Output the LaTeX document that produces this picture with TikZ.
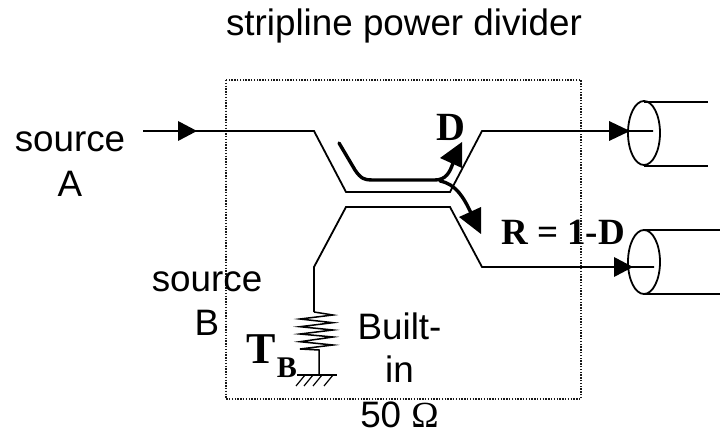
\documentclass[tikz,border=0pt]{standalone}
\usepackage{fontspec}
\setmainfont{Liberation Sans}
\newfontfamily\timesbold[BoldFont={Liberation Serif Bold}]{Liberation Serif}
\tikzset{
  lbl/.style={inner sep=0pt,anchor=base,font=\fontsize{36.8}{40}\selectfont},
  blbl/.style={inner sep=0pt,font=\fontsize{37}{40}\timesbold\bfseries},
  wire/.style={line width=1.8pt,line join=miter},
  thick arrow/.style={line width=3.4pt,line cap=round},
  head/.style={fill=black,draw=none}
}
\begin{document}
\begin{tikzpicture}[x=1pt,y=-1pt]
\useasboundingbox (0,0) rectangle (720,435);
\draw[line width=1.4pt,dash pattern=on 1.4pt off 1.4pt,black!90] (226,80) rectangle (581,399);
% text
\node[lbl] (title) at (404,36) {stripline power divider};
\node[lbl] (srcA) at (70,152) {source};
\node[lbl] (a) at (70,197) {A};
\node[lbl] (srcB) at (207,292) {source};
\node[lbl] (b) at (207,336) {B};
\node[lbl] (built) at (399.5,340) {Built-};
\node[lbl] (in) at (399.5,383) {in};
\node[lbl] (ohm) at (399.5,427) {50 {\timesbold Ω}};
\node[inner sep=0pt,font=\fontsize{40}{40}\timesbold\bfseries] (d) at (451,127) {D};
\node[blbl] (r) at (563,232) {R = 1-D};
\node[inner sep=0pt,font=\fontsize{44}{44}\timesbold\bfseries] (t) at (261,349) {T};
\node[inner sep=0pt,font=\fontsize{30}{30}\timesbold\bfseries] (tb) at (287,368) {B};
% wires
\coordinate (inA) at (143,131);
\coordinate (outD) at (653,131);
\coordinate (outR) at (654,267);
\draw[wire] (inA) -- (314,131) -- (346,192) -- (450,192) -- (482,131) -- (outD);
\draw[wire] (314,312) -- (314,267) -- (346,207) -- (450,207) -- (482,267) -- (outR);
\fill[head] (197,131) -- (178,121) -- (178,141) -- cycle;
\fill[head] (630,131) -- (609,121) -- (609,141) -- cycle;
\fill[head] (633,267) -- (614,257) -- (614,277) -- cycle;
% resistor
\draw[line width=1.5pt] (314,312) -- (333,315) -- (300,319) -- (333,322.7) -- (300,326.7) -- (333,330) -- (300,334) -- (333,337) -- (300,341.7) -- (333,345) -- (300,349) -- (319,350) -- (319,375);
% ground
\draw[line width=1.5pt] (297,375) -- (337,375);
\foreach \x in {305,313,322,333} \draw[line width=1.2pt] (\x-9,386) -- (\x,375);
% cables
\coordinate (c1) at (644,133);
\coordinate (c2) at (644,262);
\draw[wire] (c1) ellipse [x radius=16,y radius=32];
\draw[wire] (644,102) -- (708,102);
\draw[wire] (644,166) -- (708,166);
\draw[wire] (c2) ellipse [x radius=16,y radius=32];
\draw[wire] (644,230) -- (720,230);
\draw[wire] (644,294) -- (720,294);
% thick arrows
\draw[thick arrow] (339,143) -- (355,170) .. controls (361,179) and (365,180) .. (372,180) -- (435,180) .. controls (446,180) and (450,172) .. (453,163);
\fill[head] (440,158) -- (462,142) -- (462,168) -- cycle;
\draw[thick arrow] (440,181) .. controls (456,184) and (464,198) .. (471,213);
\fill[head] (459,217) -- (481,207) -- (481,234) -- cycle;
\end{tikzpicture}
\end{document}
